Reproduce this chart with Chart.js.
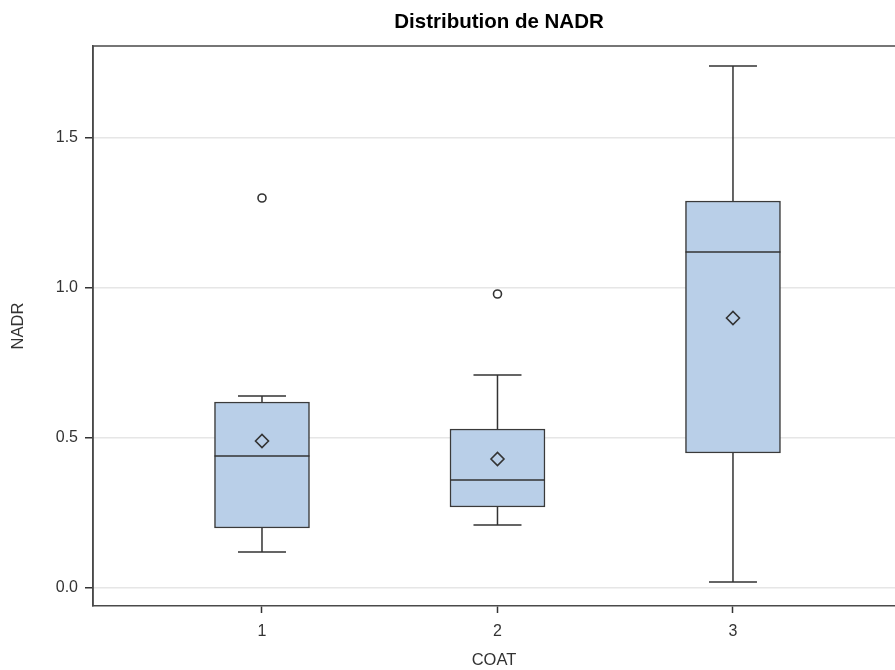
<!DOCTYPE html>
<html>
<head>
<meta charset="utf-8">
<script src="https://cdn.jsdelivr.net/npm/chart.js@4.4.1/dist/chart.umd.min.js"></script>
<style>
  html, body { margin: 0; padding: 0; overflow: hidden; background: #ffffff; }
  #wrap { width: 895px; height: 670px; }
</style>
</head>
<body>
<div id="wrap"><canvas id="c" width="895" height="670"></canvas></div>
<script>
// NADR summary statistics by COAT group
const categories  = [1, 2, 3];
const whiskerLow  = [0.12, 0.21, 0.02];
const q1          = [0.20, 0.27, 0.45];
const medians     = [0.44, 0.36, 1.12];
const q3          = [0.62, 0.53, 1.29];
const whiskerHigh = [0.64, 0.71, 1.74];
const means       = [0.49, 0.43, 0.90];
const outliers    = [[1.30], [0.98], []];
const yTicks      = [0, 0.5, 1.0, 1.5];

const FONT = "'Liberation Sans', Arial, Helvetica, sans-serif";
const INK = '#333333';
const FRAME = '#4a4a4a';
const BOX_FILL = '#b9cfe8';
const CAP_PX = 48;
// the plot frame continues past the right edge of the canvas,
// so the title is centred on the full frame width
const FRAME_OVERHANG = 10;

// scatter markers that do not reserve extra space around the plot area
class MarkerController extends Chart.ScatterController {
  getMaxOverflow() { return 0; }
}
MarkerController.id = 'marker';
MarkerController.defaults = Object.assign({}, Chart.ScatterController.defaults);
Chart.register(MarkerController);

const boxData = categories.map((c, i) => ({ x: c, y: [q1[i], q3[i]] }));
const meanData = categories.map((c, i) => ({ x: c, y: means[i] }));
const outlierData = [];
categories.forEach((c, i) => outliers[i].forEach(v => outlierData.push({ x: c, y: v })));

// whiskers, caps, medians and the top/right frame
const boxExtras = {
  id: 'boxExtras',
  afterLayout(chart) {
    if (chart.titleBlock) {
      chart.titleBlock.left = chart.chartArea.left;
      chart.titleBlock.right = chart.chartArea.right + FRAME_OVERHANG;
    }
  },
  beforeDatasetsDraw(chart) {
    const ctx = chart.ctx, xs = chart.scales.x, ys = chart.scales.y;
    ctx.save();
    ctx.strokeStyle = INK;
    ctx.lineWidth = 1.5;
    categories.forEach((c, i) => {
      const px = xs.getPixelForValue(c);
      const pairs = [[q3[i], whiskerHigh[i]], [q1[i], whiskerLow[i]]];
      pairs.forEach(([from, to]) => {
        const y0 = ys.getPixelForValue(from), y1 = ys.getPixelForValue(to);
        ctx.beginPath();
        ctx.moveTo(px, y0);
        ctx.lineTo(px, y1);
        ctx.moveTo(px - CAP_PX / 2, y1);
        ctx.lineTo(px + CAP_PX / 2, y1);
        ctx.stroke();
      });
    });
    ctx.restore();
  },
  afterDatasetDraw(chart, args) {
    if (args.meta.type !== 'bar') return;
    const ctx = chart.ctx, ys = chart.scales.y;
    ctx.save();
    ctx.strokeStyle = INK;
    ctx.lineWidth = 1.5;
    args.meta.data.forEach((bar, i) => {
      const py = ys.getPixelForValue(medians[i]);
      ctx.beginPath();
      ctx.moveTo(bar.x - bar.width / 2, py);
      ctx.lineTo(bar.x + bar.width / 2, py);
      ctx.stroke();
    });
    ctx.restore();
  },
  afterDraw(chart) {
    const { left, right, top, bottom } = chart.chartArea;
    const ctx = chart.ctx;
    ctx.save();
    ctx.strokeStyle = FRAME;
    ctx.lineWidth = 1.5;
    ctx.beginPath();
    ctx.moveTo(left, bottom);
    ctx.lineTo(left, top);
    ctx.lineTo(right + FRAME_OVERHANG, top);
    ctx.stroke();
    ctx.restore();
  }
};

new Chart(document.getElementById('c'), {
  type: 'bar',
  data: {
    datasets: [
      {
        type: 'bar',
        data: boxData,
        backgroundColor: BOX_FILL,
        borderColor: '#3a3a3a',
        borderWidth: 1.5,
        borderSkipped: false,
        barThickness: 95,
        grouped: false,
        order: 3
      },
      {
        type: 'marker',
        data: meanData,
        pointStyle: 'rectRot',
        radius: 6.5,
        borderWidth: 1.6,
        borderColor: INK,
        backgroundColor: 'rgba(0,0,0,0)',
        order: 1
      },
      {
        type: 'marker',
        data: outlierData,
        pointStyle: 'circle',
        radius: 4,
        borderWidth: 1.6,
        borderColor: INK,
        backgroundColor: 'rgba(0,0,0,0)',
        order: 0
      }
    ]
  },
  options: {
    responsive: false,
    animation: false,
    events: [],
    layout: { padding: 0 },
    plugins: {
      legend: { display: false },
      tooltip: { enabled: false },
      title: {
        display: true,
        text: 'Distribution de NADR',
        fullSize: false,
        color: '#000000',
        font: { family: FONT, size: 20.5, weight: 'bold' },
        padding: { top: 10, bottom: 11.4 }
      }
    },
    scales: {
      x: {
        type: 'linear',
        offset: false,
        min: 0.2824,
        max: 3.688,
        afterBuildTicks(scale) { scale.ticks = categories.map(v => ({ value: v })); },
        afterFit(scale) { scale.height = 64; },
        ticks: {
          color: INK,
          font: { family: FONT, size: 16 },
          padding: 9,
          callback: v => String(v)
        },
        grid: { offset: false, drawOnChartArea: false, tickLength: 7, tickColor: INK, tickWidth: 1.5 },
        border: { display: true, color: FRAME, width: 1.5 },
        title: {
          display: true,
          text: 'COAT',
          color: INK,
          font: { family: FONT, size: 16.5 },
          padding: { top: 0, bottom: 0 }
        }
      },
      y: {
        type: 'linear',
        min: -0.06,
        max: 1.8067,
        afterBuildTicks(scale) { scale.ticks = yTicks.map(v => ({ value: v })); },
        afterFit(scale) { scale.width = 93; },
        ticks: {
          color: INK,
          font: { family: FONT, size: 16 },
          padding: 7,
          callback: v => Number(v).toFixed(1)
        },
        grid: { color: '#e6e6e6', lineWidth: 1.5, tickLength: 8, tickColor: INK, tickWidth: 1.5 },
        border: { display: true, color: FRAME, width: 1.5 },
        title: {
          display: true,
          text: 'NADR',
          color: INK,
          font: { family: FONT, size: 16.5 },
          padding: { top: 9, bottom: 0 }
        }
      }
    }
  },
  plugins: [boxExtras]
});
</script>
</body>
</html>
